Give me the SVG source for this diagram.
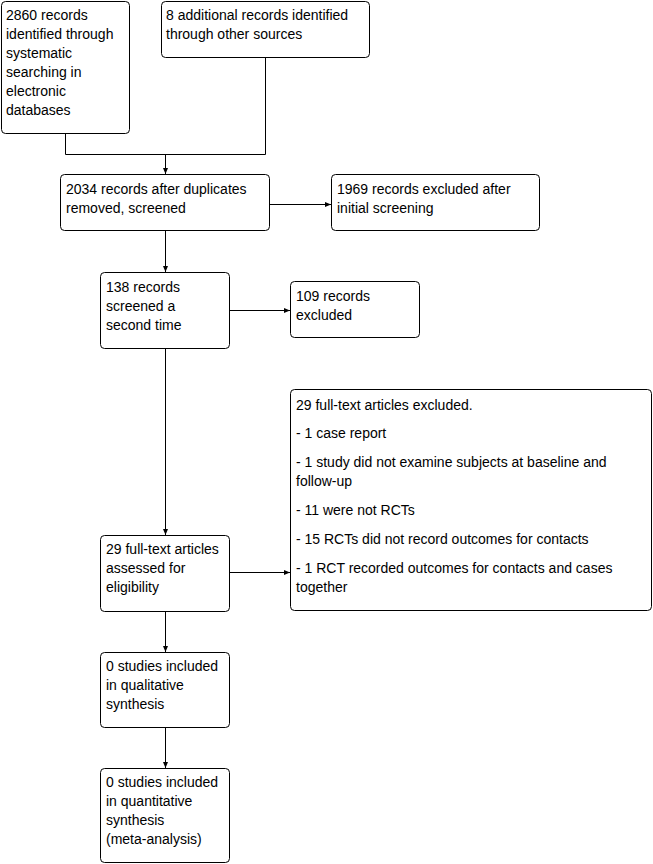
<svg xmlns="http://www.w3.org/2000/svg" width="653" height="864" viewBox="0 0 653 864">
<style>
.box{fill:#fff;stroke:#000;stroke-width:1}
text{font-family:"Liberation Sans",Arial,sans-serif;font-size:14px;fill:#000}
.ln{fill:none;stroke:#000;stroke-width:1}
</style>
<defs>
<marker id="ah" markerWidth="6" markerHeight="6" refX="6" refY="3" orient="auto" markerUnits="userSpaceOnUse">
<path d="M0,0.5 L6,3 L0,5.5 Z" fill="#000"/>
</marker>
</defs>
<rect width="653" height="864" fill="#fff"/>
<g id="connectors">
<path class="ln" d="M65.5,133 V154.5 H265.5 V57"/>
<path class="ln" d="M165.5,154.5 V174" marker-end="url(#ah)"/>
<path class="ln" d="M269,204.5 H331" marker-end="url(#ah)"/>
<path class="ln" d="M165.5,231 V272" marker-end="url(#ah)"/>
<path class="ln" d="M229,310.5 H290" marker-end="url(#ah)"/>
<path class="ln" d="M165.5,348 V535" marker-end="url(#ah)"/>
<path class="ln" d="M229,572.5 H290" marker-end="url(#ah)"/>
<path class="ln" d="M165.5,611 V652" marker-end="url(#ah)"/>
<path class="ln" d="M165.5,727 V768" marker-end="url(#ah)"/>
</g>
<g id="n1">
<rect class="box" x="1.5" y="1.5" width="128" height="132" rx="4"/>
<text x="6"><tspan x="6" y="20">2860 records</tspan><tspan x="6" y="39">identified through</tspan><tspan x="6" y="58">systematic</tspan><tspan x="6" y="77">searching in</tspan><tspan x="6" y="96">electronic</tspan><tspan x="6" y="115">databases</tspan></text>
</g>
<g id="n2">
<rect class="box" x="161.5" y="1.5" width="208" height="56" rx="4"/>
<text><tspan x="166" y="20">8 additional records identified</tspan><tspan x="166" y="39">through other sources</tspan></text>
</g>
<g id="n3">
<rect class="box" x="60.5" y="174.5" width="209" height="56" rx="4"/>
<text><tspan x="66" y="194">2034 records after duplicates</tspan><tspan x="66" y="213">removed, screened</tspan></text>
</g>
<g id="n4">
<rect class="box" x="331.5" y="174.5" width="208" height="56" rx="4"/>
<text><tspan x="337" y="194">1969 records excluded after</tspan><tspan x="337" y="213">initial screening</tspan></text>
</g>
<g id="n5">
<rect class="box" x="100.5" y="272.5" width="129" height="76" rx="4"/>
<text><tspan x="106" y="292">138 records</tspan><tspan x="106" y="311">screened a</tspan><tspan x="106" y="330">second time</tspan></text>
</g>
<g id="n6">
<rect class="box" x="290.5" y="281.5" width="129" height="56" rx="4"/>
<text><tspan x="296" y="301">109 records</tspan><tspan x="296" y="320">excluded</tspan></text>
</g>
<g id="n7">
<rect class="box" x="100.5" y="535.5" width="129" height="76" rx="4"/>
<text><tspan x="106" y="554">29 full-text articles</tspan><tspan x="106" y="573">assessed for</tspan><tspan x="106" y="592">eligibility</tspan></text>
</g>
<g id="n8">
<rect class="box" x="290.5" y="389.5" width="361" height="221" rx="4"/>
<text><tspan x="296" y="410">29 full-text articles excluded.</tspan><tspan x="296" y="438">- 1 case report</tspan><tspan x="296" y="467">- 1 study did not examine subjects at baseline and</tspan><tspan x="296" y="486">follow-up</tspan><tspan x="296" y="515">- 11 were not RCTs</tspan><tspan x="296" y="544">- 15 RCTs did not record outcomes for contacts</tspan><tspan x="296" y="573">- 1 RCT recorded outcomes for contacts and cases</tspan><tspan x="296" y="592">together</tspan></text>
</g>
<g id="n9">
<rect class="box" x="100.5" y="652.5" width="129" height="75" rx="4"/>
<text><tspan x="106" y="671">0 studies included</tspan><tspan x="106" y="690">in qualitative</tspan><tspan x="106" y="709">synthesis</tspan></text>
</g>
<g id="n10">
<rect class="box" x="100.5" y="768.5" width="129" height="94" rx="4"/>
<text><tspan x="106" y="787">0 studies included</tspan><tspan x="106" y="806">in quantitative</tspan><tspan x="106" y="825">synthesis</tspan><tspan x="106" y="844">(meta-analysis)</tspan></text>
</g>
</svg>
